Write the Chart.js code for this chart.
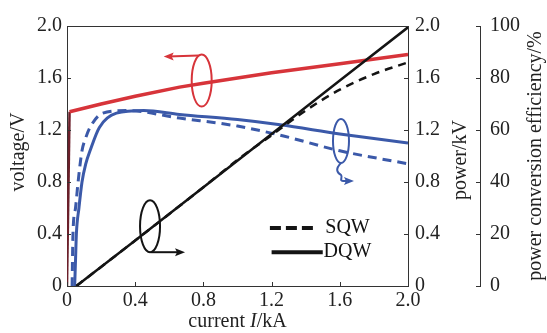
<!DOCTYPE html>
<html>
<head>
<meta charset="utf-8">
<script src="https://cdn.jsdelivr.net/npm/chart.js@4.4.0/dist/chart.umd.min.js"></script>
<style>
    html, body { margin: 0; padding: 0; background: #fff; }
</style>
</head>
<body>
<canvas id="chart" width="547" height="333"></canvas>
<script>
// Tension (axe de gauche)
const courantTension = [0, 0.015, 0.2, 0.4, 0.66, 0.8, 1.2, 1.6, 2.0];
const tension = [0, 1.34, 1.40, 1.46, 1.53, 1.56, 1.64, 1.71, 1.78];

// Puissance (axe de droite, kV)
const courantPuissanceDQW = [0.055, 0.4, 0.8, 1.2, 1.6, 2.0];
const puissanceDQW = [0, 0.35, 0.76, 1.17, 1.58, 1.99];
const courantPuissanceSQW = [0.055, 0.4, 0.8, 1.0, 1.2, 1.4, 1.6, 1.8, 2.0];
const puissanceSQW = [0, 0.35, 0.76, 0.97, 1.16, 1.35, 1.51, 1.63, 1.72];

// Rendement de conversion (%)
const courantRendementDQW = [0.045, 0.05, 0.055, 0.07, 0.088, 0.11, 0.135, 0.19, 0.29, 0.45, 0.66, 1.0, 1.25, 1.6, 2.0];
const rendementDQW = [0, 10, 20, 30, 40, 47, 52, 61, 66.5, 67.5, 66, 64, 62, 58.5, 55];
const courantRendementSQW = [0.03, 0.035, 0.05, 0.065, 0.088, 0.11, 0.135, 0.21, 0.35, 0.66, 1.0, 1.25, 1.6, 2.0];
const rendementSQW = [0, 20, 30, 40, 52, 57, 61, 66.5, 67.5, 64.6, 61.5, 58, 52, 47];

// Graduations
const ticksCourant = [0, 0.4, 0.8, 1.2, 1.6, 2.0];
const ticksTension = [0, 0.4, 0.8, 1.2, 1.6, 2.0];
const ticksRendement = [0, 20, 40, 60, 80, 100];

const ROUGE = '#d7343a';
const BLEU = '#3b59a9';
const NOIR = '#141414';
const POLICE = '"Liberation Serif", "DejaVu Serif", serif';

function points(xs, ys) {
    return xs.map(function(v, i) { return { x: v, y: ys[i] }; });
}

function fmt(v) {
    return v === 0 ? '0' : v.toFixed(1);
}

// Titres d'axes, graduations intérieures, ellipses et légende
const decor = {
    id: 'decor',
    afterDraw(chart) {
        const ctx = chart.ctx;
        const a = chart.chartArea;
        const sx = chart.scales.x, sv = chart.scales.yV, sp = chart.scales.yP, se = chart.scales.yE;

        ctx.save();
        ctx.strokeStyle = '#333';
        ctx.lineWidth = 1;

        // bord supérieur
        ctx.beginPath();
        ctx.moveTo(a.left, a.top + 0.5);
        ctx.lineTo(a.right, a.top + 0.5);
        ctx.stroke();

        // graduations
        ctx.beginPath();
        ticksCourant.forEach(function(v) {
            const px = Math.round(sx.getPixelForValue(v)) + 0.5;
            ctx.moveTo(px, a.bottom);
            ctx.lineTo(px, a.bottom - 4);
        });
        ticksTension.forEach(function(v) {
            const py = Math.round(sv.getPixelForValue(v)) + 0.5;
            ctx.moveTo(a.left, py);
            ctx.lineTo(a.left + 4, py);
            ctx.moveTo(a.right, py);
            ctx.lineTo(a.right - 4, py);
        });
        ticksRendement.forEach(function(v) {
            const py = Math.round(se.getPixelForValue(v)) + 0.5;
            ctx.moveTo(se.left, py);
            ctx.lineTo(se.left - 4, py);
        });
        ctx.stroke();

        // titres
        ctx.fillStyle = '#222';
        ctx.font = '20px ' + POLICE;
        ctx.textAlign = 'center';
        ctx.textBaseline = 'middle';
        const cy = (a.top + a.bottom) / 2;
        [['voltage/V', 19, cy - 4], ['power/kV', 461, cy + 4], ['power conversion efficiency/%', 536, cy]].forEach(function(t) {
            ctx.save();
            ctx.translate(t[1], t[2]);
            ctx.rotate(-Math.PI / 2);
            ctx.fillText(t[0], 0, 0);
            ctx.restore();
        });

        // titre de l'axe x avec I en italique
        const parts = [['current ', '20px '], ['I', 'italic 20px '], ['/kA', '20px ']];
        let total = 0;
        parts.forEach(function(p) { ctx.font = p[1] + POLICE; total += ctx.measureText(p[0]).width; });
        let tx = (a.left + a.right) / 2 - total / 2;
        ctx.textAlign = 'left';
        parts.forEach(function(p) {
            ctx.font = p[1] + POLICE;
            ctx.fillText(p[0], tx, 322);
            tx += ctx.measureText(p[0]).width;
        });

        // ellipses et flèches
        function fleche(x, y, dir, col) {
            ctx.fillStyle = col;
            ctx.beginPath();
            ctx.moveTo(x, y);
            ctx.lineTo(x - dir * 10, y - 4);
            ctx.lineTo(x - dir * 8, y);
            ctx.lineTo(x - dir * 10, y + 4);
            ctx.closePath();
            ctx.fill();
        }

        ctx.lineWidth = 2;
        // tension
        let ex = sx.getPixelForValue(0.79), ey = sv.getPixelForValue(1.58);
        ctx.strokeStyle = ROUGE;
        ctx.beginPath();
        ctx.ellipse(ex, ey, 10, 26, 0, 0, Math.PI * 2);
        ctx.stroke();
        ctx.beginPath();
        ctx.moveTo(ex - 3, ey - 25);
        ctx.lineTo(ex - 34, ey - 24);
        ctx.stroke();
        fleche(ex - 38, ey - 24, -1, ROUGE);

        // rendement
        ex = sx.getPixelForValue(1.607); ey = se.getPixelForValue(55.8);
        ctx.strokeStyle = BLEU;
        ctx.beginPath();
        ctx.ellipse(ex, ey, 8, 22, 0, 0, Math.PI * 2);
        ctx.stroke();
        ctx.beginPath();
        ctx.moveTo(ex, ey + 22);
        ctx.bezierCurveTo(ex - 6, ey + 28, ex - 4, ey + 32, ex, ey + 34);
        ctx.bezierCurveTo(ex + 2, ey + 36, ex - 2, ey + 40, ex + 2, ey + 40);
        ctx.lineTo(ex + 8, ey + 40);
        ctx.stroke();
        fleche(ex + 13, ey + 40, 1, BLEU);

        // puissance
        ex = sx.getPixelForValue(0.487); ey = sp.getPixelForValue(0.46);
        ctx.strokeStyle = NOIR;
        ctx.beginPath();
        ctx.ellipse(ex, ey, 10, 26, 0, 0, Math.PI * 2);
        ctx.stroke();
        ctx.beginPath();
        ctx.moveTo(ex + 1, ey + 26);
        ctx.lineTo(ex + 29, ey + 26);
        ctx.stroke();
        fleche(ex + 35, ey + 26, 1, NOIR);

        // légende
        ctx.strokeStyle = NOIR;
        ctx.lineWidth = 4;
        let ly = sp.getPixelForValue(0.446);
        ctx.setLineDash([11, 5]);
        ctx.beginPath();
        ctx.moveTo(sx.getPixelForValue(1.19), ly);
        ctx.lineTo(sx.getPixelForValue(1.445), ly);
        ctx.stroke();
        ctx.setLineDash([]);
        const ly2 = sp.getPixelForValue(0.26);
        ctx.beginPath();
        ctx.moveTo(sx.getPixelForValue(1.2), ly2);
        ctx.lineTo(sx.getPixelForValue(1.5), ly2);
        ctx.stroke();
        ctx.fillStyle = '#111';
        ctx.font = '20px ' + POLICE;
        ctx.textAlign = 'left';
        ctx.fillText('SQW', sx.getPixelForValue(1.515), ly);
        ctx.fillText('DQW', sx.getPixelForValue(1.505), ly2);

        ctx.restore();
    }
};

function axeY(position, min, max, step, largeur, padding, borderVisible, weight, callback) {
    return {
        type: 'linear',
        position: position,
        min: min,
        max: max,
        weight: weight,
        grid: { display: false, drawTicks: false, tickLength: 0 },
        border: { display: borderVisible, color: '#333', width: 1 },
        ticks: {
            stepSize: step,
            padding: padding,
            color: '#222',
            font: { family: POLICE, size: 20 },
            callback: callback
        },
        afterFit: function(s) { s.width = largeur; }
    };
}

const ctx = document.getElementById('chart').getContext('2d');
new Chart(ctx, {
    type: 'line',
    data: {
        datasets: [
            {
                label: 'DQW',
                data: points(courantPuissanceDQW, puissanceDQW),
                yAxisID: 'yP',
                borderColor: NOIR,
                borderWidth: 2.5
            },
            {
                label: 'SQW',
                data: points(courantPuissanceSQW, puissanceSQW),
                yAxisID: 'yP',
                borderColor: NOIR,
                borderWidth: 2.5,
                borderDash: [8, 6],
                cubicInterpolationMode: 'monotone'
            },
            {
                label: 'tension',
                data: points(courantTension, tension),
                yAxisID: 'yV',
                borderColor: ROUGE,
                borderWidth: 3.5,
                // montée verticale à I = 0, plus sombre
                segment: {
                    borderColor: function(c) { return c.p0DataIndex === 0 ? '#6b1f2a' : undefined; },
                    borderWidth: function(c) { return c.p0DataIndex === 0 ? 2.5 : undefined; }
                }
            },
            {
                label: 'rendement DQW',
                data: points(courantRendementDQW, rendementDQW),
                yAxisID: 'yE',
                borderColor: BLEU,
                borderWidth: 3,
                cubicInterpolationMode: 'monotone'
            },
            {
                label: 'rendement SQW',
                data: points(courantRendementSQW, rendementSQW),
                yAxisID: 'yE',
                borderColor: BLEU,
                borderWidth: 3,
                borderDash: [9, 6],
                cubicInterpolationMode: 'monotone'
            }
        ]
    },
    options: {
        responsive: false,
        animation: false,
        layout: { padding: { top: 26, left: 0, right: 0, bottom: 0 } },
        elements: { point: { radius: 0 }, line: { fill: false } },
        plugins: {
            legend: { display: false },
            tooltip: { enabled: false }
        },
        scales: {
            x: {
                type: 'linear',
                min: 0,
                max: 2,
                grid: { display: false, drawTicks: false, tickLength: 0 },
                border: { display: true, color: '#333', width: 1 },
                ticks: {
                    stepSize: 0.4,
                    padding: 3,
                    maxRotation: 0,
                    color: '#222',
                    font: { family: POLICE, size: 20 },
                    callback: fmt
                },
                afterFit: function(s) { s.height = 47; }
            },
            yV: axeY('left', 0, 2, 0.4, 67, 5, true, 0, fmt),
            yP: axeY('right', 0, 2, 0.4, 72, 7, true, 0, fmt),
            yE: axeY('right', 0, 100, 20, 67, 10, true, 1, function(v) { return String(v); })
        }
    },
    plugins: [decor]
});
</script>
</body>
</html>
